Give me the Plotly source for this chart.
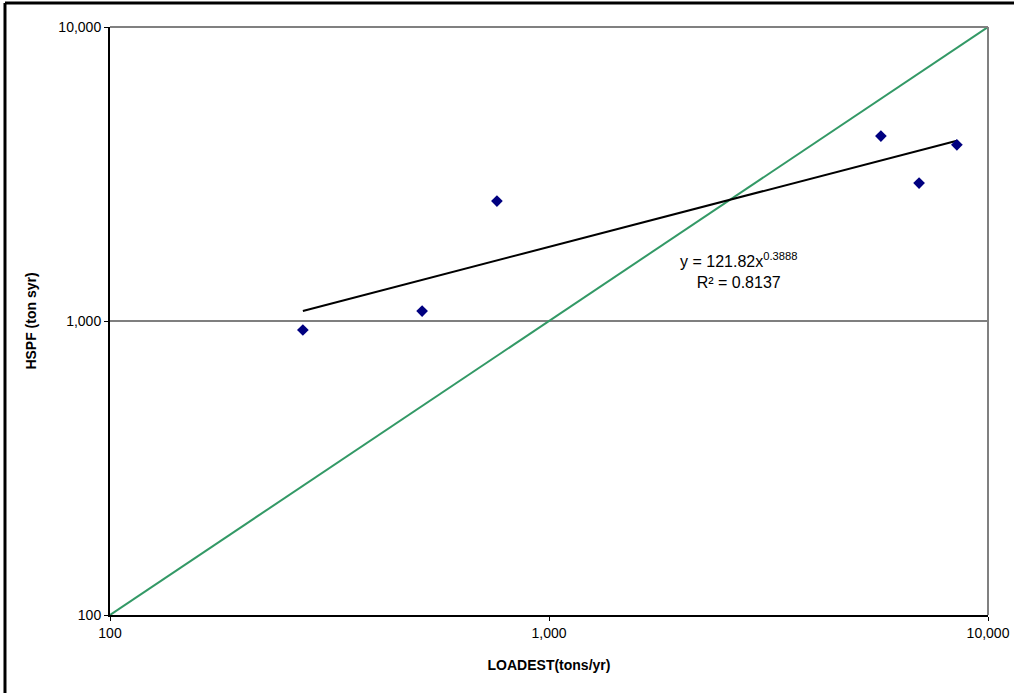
import numpy as np
import plotly.graph_objects as go

# Data
loadest = [275, 514, 761, 5702, 6966, 8494]      # LOADEST (tons/yr)
hspf = [932, 1081, 2559, 4256, 2946, 3975]       # HSPF (tons/yr)

# Power trendline reported on the chart
trend_a = 121.82
trend_b = 0.3888
r2 = 0.8137

# 1:1 line
one_to_one = [100, 10000]

x_tick_vals = [100, 1000, 10000]
x_tick_text = ["100", "1,000", "10,000"]
y_tick_vals = [100, 1000, 10000]
y_tick_text = ["100", "1,000", "10,000"]

FONT = "Liberation Sans, Arial, sans-serif"

tx = np.logspace(np.log10(min(loadest)), np.log10(max(loadest)), 100)
ty = trend_a * tx ** trend_b

fig = go.Figure()
fig.add_trace(go.Scatter(x=one_to_one, y=one_to_one, mode="lines",
                         line=dict(color="#339966", width=2), showlegend=False, hoverinfo="skip"))
fig.add_trace(go.Scatter(x=tx, y=ty, mode="lines",
                         line=dict(color="black", width=2), showlegend=False))
fig.add_trace(go.Scatter(x=loadest, y=hspf, mode="markers",
                         marker=dict(symbol="diamond", size=9, color="#000080"), showlegend=False))

fig.update_layout(
    width=1014, height=693,
    margin=dict(l=110, r=26, t=27, b=78),
    paper_bgcolor="white", plot_bgcolor="white",
    font=dict(family=FONT, color="black"),
    xaxis=dict(type="log", range=[2, 4], tickvals=x_tick_vals, ticktext=x_tick_text,
               automargin=False,
               showgrid=False, zeroline=False, showline=True, linecolor="black", linewidth=2,
               ticks="outside", ticklen=4, tickcolor="black", tickfont=dict(size=14),
               title=dict(text="<b>LOADEST(tons/yr)</b>", font=dict(size=14), standoff=20)),
    yaxis=dict(type="log", range=[2, 4], tickvals=y_tick_vals, ticktext=y_tick_text,
               automargin=False,
               showgrid=False, zeroline=False, showline=True, linecolor="black", linewidth=2,
               ticks="outside", ticklen=4, tickcolor="black", tickfont=dict(size=14),
               title=dict(text="<b>HSPF (ton syr)</b>", font=dict(size=14), standoff=18)),
    shapes=[
        dict(type="line", xref="paper", yref="y", x0=0, x1=1, y0=1000, y1=1000,
             line=dict(color="black", width=1.2), layer="below"),
        dict(type="line", xref="paper", yref="paper", x0=0, x1=1, y0=1, y1=1,
             line=dict(color="#808080", width=2)),
        dict(type="line", xref="paper", yref="paper", x0=1, x1=1, y0=0, y1=1,
             line=dict(color="#808080", width=2)),
        # outer chart border (left and top visible)
        dict(type="line", xref="paper", yref="paper", x0=-0.1196, x1=-0.1196, y0=-0.2, y1=1.0408,
             line=dict(color="black", width=3)),
        dict(type="line", xref="paper", yref="paper", x0=-0.1196, x1=1.2, y0=1.0408, y1=1.0408,
             line=dict(color="black", width=3)),
    ],
    annotations=[
        dict(x=np.log10(2700), y=np.log10(1490), xref="x", yref="y", showarrow=False,
             text=f"y = {trend_a}x<sup>{trend_b}</sup><br>R² = {r2}",
             font=dict(size=16, family=FONT), align="center", xanchor="center", yanchor="middle"),
    ],
)

fig.write_html("out.html", config={"displayModeBar": False},
               post_script="document.body.style.margin='0';document.body.style.overflow='hidden';")
